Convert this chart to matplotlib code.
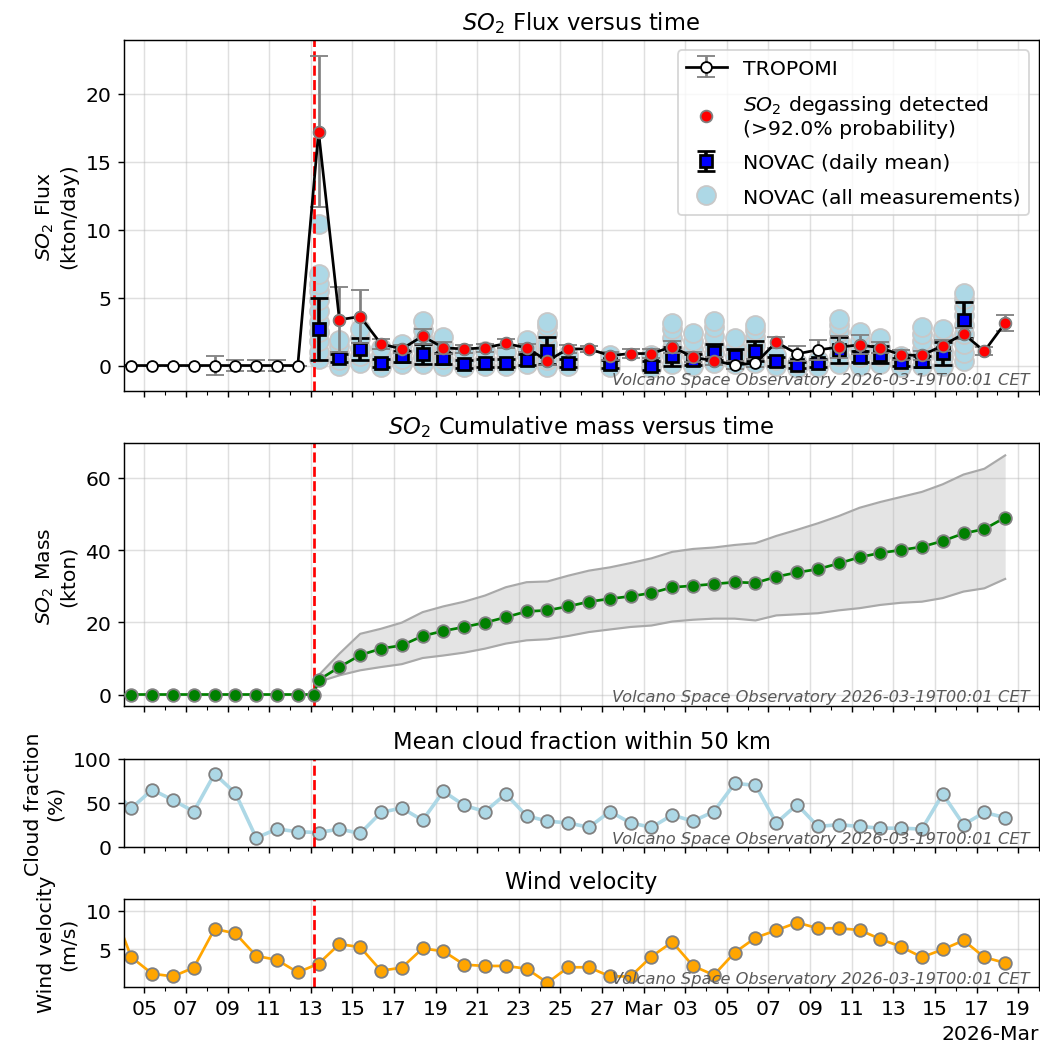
import numpy as np
import pandas as pd
import matplotlib
matplotlib.use('Agg')
import matplotlib.pyplot as plt
import matplotlib.dates as mdates

plt.rcParams['font.size'] = 11.3

# daily values at satellite overpass time (first one sits just left of the window)
days = pd.date_range('2026-02-03 09:00', '2026-03-18 09:00', freq='D')
eruption = pd.Timestamp('2026-02-13 03:30')
stamp = 'Volcano Space Observatory 2026-03-19T00:01 CET'

tropomi_flux = [0, 0, 0, 0, 0, 0, 0, 0, 0, 0,
                17.2, 3.37, 3.6, 1.59, 1.22, 2.16, 1.3, 1.22, 1.3, 1.62,
                1.3, 0.35, 1.22, 1.22, 0.73, 0.88,
                0.88, 1.38, 0.61, 0.35, 0.05, 0.17, 1.72, 0.86, 1.15, 1.35,
                1.52, 1.3, 0.78, 0.74, 1.47, 2.33, 1.05, 3.13]
tropomi_err = [0, 0, 0, 0, 0, 0.7, 0.37, 0.37, 0.37, 0,
               5.55, 2.4, 1.95, 0.35, 0.3, 0.55, 0.45, 0.3, 0.3, 0.35,
               0.3, 0.3, 0.3, 0.25, 0.3, 0.3,
               0.3, 0.45, 0.35, 0.3, 0.3, 0.3, 0.4, 0.55, 0.75, 0.8,
               0.7, 0.4, 0.35, 0.35, 0.4, 0.4, 0.3, 0.57]
detected = [False] * 10 + [True] * 20 + [False, False, True, False, False] + [True] * 9

novac_days = ['2026-02-13', '2026-02-14', '2026-02-15', '2026-02-16', '2026-02-17',
              '2026-02-18', '2026-02-19', '2026-02-20', '2026-02-21', '2026-02-22',
              '2026-02-23', '2026-02-24', '2026-02-25', '2026-02-27', '2026-03-01',
              '2026-03-02', '2026-03-03', '2026-03-04', '2026-03-05', '2026-03-06',
              '2026-03-07', '2026-03-08', '2026-03-09', '2026-03-10', '2026-03-11',
              '2026-03-12', '2026-03-13', '2026-03-14', '2026-03-15', '2026-03-16']
novac_mean = [2.7, 0.54, 1.22, 0.2, 0.69, 0.86, 0.54, 0.12, 0.2, 0.2,
              0.44, 1.1, 0.2, 0.12, 0.0, 0.69, 0.44, 0.98, 0.69, 1.05,
              0.3, 0.05, 0.17, 1.15, 0.65, 0.81, 0.24, 0.3, 0.9, 3.36]
novac_err = [2.3, 0.3, 0.8, 0.3, 0.4, 0.75, 0.4, 0.3, 0.3, 0.3,
             0.4, 1.0, 0.3, 0.3, 0.3, 0.7, 0.4, 0.6, 0.5, 0.73,
             0.3, 0.2, 0.3, 0.95, 0.4, 0.6, 0.3, 0.4, 0.86, 1.34]
novac_all = [[0.5, 1.0, 1.8, 2.5, 3.2, 4.0, 4.8, 5.5, 6.0, 6.7, 10.4],
             [0.0, 0.4, 0.9, 1.4, 1.9],
             [0.2, 0.7, 1.3, 2.0, 2.7],
             [-0.1, 0.3, 0.8, 1.3],
             [0.1, 0.5, 1.0, 1.6],
             [0.1, 0.6, 1.2, 1.9, 2.6, 3.3],
             [0.0, 0.5, 1.0, 1.5, 2.1],
             [-0.1, 0.4, 0.9],
             [0.0, 0.5, 1.1],
             [0.0, 0.5, 1.0],
             [0.1, 0.7, 1.3, 1.9],
             [-0.1, 0.4, 1.0, 1.6, 2.3, 2.9, 3.2],
             [0.0, 0.4, 0.8],
             [-0.1, 0.3, 0.8],
             [-0.2, 0.3, 0.8],
             [0.1, 0.7, 1.3, 2.0, 2.7, 3.1],
             [0.0, 0.6, 1.2, 1.8, 2.4],
             [0.2, 0.9, 1.5, 2.2, 2.8, 3.3],
             [0.1, 0.7, 1.3, 2.0],
             [0.2, 0.9, 1.5, 2.1, 2.6, 3.0],
             [0.0, 0.4, 0.8],
             [-0.2, 0.2],
             [-0.1, 0.4],
             [0.1, 0.7, 1.3, 1.9, 2.5, 3.0, 3.4],
             [0.0, 0.6, 1.2, 1.8, 2.5],
             [0.1, 0.7, 1.3, 2.0],
             [-0.1, 0.3, 0.7],
             [0.0, 0.6, 1.2, 1.8, 2.3, 2.8],
             [0.0, 0.6, 1.1, 1.7, 2.2, 2.7],
             [0.3, 0.9, 1.6, 2.3, 3.0, 3.7, 4.3, 4.9, 5.3]]

# cumulative mass: zeros until the eruption onset, then daily
mass = [0] * 11 + [4.0, 7.6, 10.9, 12.7, 13.6, 16.2, 17.6, 18.7, 19.9, 21.4,
                   23.0, 23.3, 24.4, 25.7, 26.5, 27.2, 28.1, 29.7, 30.1, 30.6,
                   31.1, 30.9, 32.6, 33.8, 34.7, 36.3, 38.0, 39.2, 40.0, 40.9,
                   42.5, 44.6, 45.8, 49.0]
mass_hi = [5.3, 11.3, 16.8, 18.2, 19.9, 22.8, 24.4, 25.7, 27.4, 29.7,
           31.1, 31.3, 32.9, 34.3, 35.2, 36.4, 37.7, 39.5, 40.3, 40.7,
           41.4, 41.9, 43.9, 45.6, 47.4, 49.4, 51.7, 53.3, 54.7, 56.1,
           58.2, 60.9, 62.5, 66.2]
mass_lo = [3.5, 5.3, 6.7, 7.6, 8.4, 10.1, 10.8, 11.6, 12.7, 14.1,
           15.0, 15.3, 16.2, 17.3, 18.0, 18.7, 19.1, 20.2, 20.7, 21.0,
           21.0, 20.5, 21.9, 22.2, 22.5, 23.3, 23.9, 24.8, 25.4, 25.7,
           26.7, 28.5, 29.4, 32.0]

cloud = [67, 43.6, 65, 53, 40, 83, 61, 10, 20, 17, 16, 20, 15, 39, 44, 30, 63, 47, 40, 60,
         35, 29, 27, 22, 40, 27, 22, 36, 29, 40, 72, 70, 27, 48, 23, 25, 23, 21, 21, 20,
         60, 25, 39, 33]
wind = [11.0, 4.0, 1.87, 1.52, 2.65, 7.65, 7.09, 4.17, 3.65, 2.04, 3.17, 5.7, 5.3, 2.26,
        2.65, 5.13, 4.78, 3.04, 2.87, 2.87,
        2.52, 0.7, 2.7, 2.7, 1.52, 1.52, 4.09, 5.96, 2.87, 1.7, 4.6, 6.52, 7.48, 8.48,
        7.74, 7.74, 7.52, 6.35, 5.35, 4.0, 5.0, 6.17, 4.0, 3.26]

tropomi_flux = np.array(tropomi_flux)
detected = np.array(detected)
novac_t = pd.to_datetime(novac_days) + pd.Timedelta(hours=9)
all_t = np.repeat(novac_t.values, [len(v) for v in novac_all])
all_v = np.concatenate(novac_all)
mass_t = days[:10].append(pd.DatetimeIndex([eruption])).append(days[10:])

fig, axes = plt.subplots(4, 1, figsize=(8, 8.0615), dpi=130, sharex=True,
                         gridspec_kw={'height_ratios': [4, 3, 1, 1]})
plt.subplots_adjust(left=0.1192, right=0.999, top=0.9606, bottom=0.0575, hspace=0.266)
ax1, ax2, ax3, ax4 = axes

# flux
ax1.plot(all_t, all_v, 'o', ls='none', ms=10.5, mfc='lightblue', mec='#c8c8c8',
         zorder=2, label='NOVAC (all measurements)')
ax1.errorbar(novac_t, novac_mean, yerr=novac_err, fmt='s', ms=7, mfc='blue', mec='black',
             mew=1.5, ecolor='black', elinewidth=2, capsize=5, zorder=3,
             label='NOVAC (daily mean)')
ax1.errorbar(days, tropomi_flux, yerr=tropomi_err, fmt='-o', color='black', ms=6,
             mfc='white', mec='black', ecolor='gray', capsize=5, zorder=4, label='TROPOMI')
ax1.plot(days[detected], tropomi_flux[detected], 'o', ls='none', ms=6.5, color='red',
         mec='gray', zorder=5,
         label='$SO_2$ degassing detected\n(>92.0% probability)')
h, l = ax1.get_legend_handles_labels()
order = [3, 1, 2, 0]
ax1.legend([h[i] for i in order], [l[i] for i in order], loc='upper right',
           labelspacing=0.75)
ax1.set_title('$SO_2$ Flux versus time', fontsize=12.5)
ax1.set_ylabel('$SO_2$ Flux\n(kton/day)')

# cumulative mass
ax2.fill_between(days[10:], mass_lo, mass_hi, color='lightgray', alpha=0.6, lw=0)
ax2.plot(days[10:], mass_hi, color='darkgray', lw=1.2)
ax2.plot(days[10:], mass_lo, color='darkgray', lw=1.2)
ax2.plot(mass_t, mass, '-o', color='green', ms=7, mec='gray', zorder=3)
ax2.set_title('$SO_2$ Cumulative mass versus time', fontsize=12.5)
ax2.set_ylabel('$SO_2$ Mass\n(kton)')

# clouds
ax3.plot(days, cloud, '-o', color='lightblue', lw=2, ms=7, mec='gray')
ax3.set_ylim(0, 100)
ax3.set_title('Mean cloud fraction within 50 km', fontsize=12.5)
ax3.set_ylabel('Cloud fraction\n(%)')

# wind
ax4.plot(days, wind, '-o', color='orange', lw=1.5, ms=7, mec='gray')
ax4.set_title('Wind velocity', fontsize=12.5)
ax4.set_ylabel('Wind velocity\n(m/s)')

for ax in axes:
    ax.axvline(eruption, color='red', ls='--', lw=1.5, zorder=2.5)
    ax.grid(True, alpha=0.4)
    ax.text(0.99, 0.01, stamp, transform=ax.transAxes, ha='right', va='bottom',
            fontsize=9, style='italic', color='0.35', zorder=10)

loc = mdates.DayLocator(bymonthday=range(1, 32, 2))
ax4.xaxis.set_major_locator(loc)
ax4.xaxis.set_minor_locator(mdates.DayLocator())
ax4.xaxis.set_major_formatter(mdates.ConciseDateFormatter(loc))
ax4.set_xlim(pd.Timestamp('2026-02-04 00:30'), pd.Timestamp('2026-03-20 00:00'))

plt.savefig('out.png')
